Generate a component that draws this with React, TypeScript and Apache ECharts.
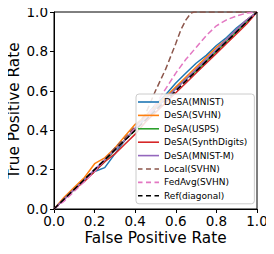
import React, { useEffect, useRef } from "react";
import * as echarts from "echarts";

const fprGrid = [0, 0.05, 0.1, 0.15, 0.2, 0.25, 0.3, 0.35, 0.4, 0.45, 0.5, 0.55, 0.6, 0.65, 0.7, 0.75, 0.8, 0.85, 0.9, 0.95, 1];
const tprMNIST = [0, 0.05, 0.1, 0.15, 0.19, 0.21, 0.28, 0.35, 0.41, 0.47, 0.53, 0.58, 0.64, 0.69, 0.74, 0.78, 0.83, 0.87, 0.92, 0.96, 1];
const tprSVHN = [0, 0.06, 0.11, 0.16, 0.23, 0.26, 0.31, 0.37, 0.43, 0.47, 0.52, 0.57, 0.62, 0.67, 0.72, 0.77, 0.82, 0.86, 0.91, 0.96, 1];
const tprUSPS = [0, 0.05, 0.1, 0.15, 0.19, 0.24, 0.3, 0.35, 0.4, 0.46, 0.51, 0.56, 0.61, 0.66, 0.7, 0.75, 0.8, 0.85, 0.9, 0.95, 1];
const tprSynth = [0, 0.05, 0.1, 0.14, 0.19, 0.24, 0.28, 0.33, 0.38, 0.44, 0.49, 0.54, 0.59, 0.64, 0.69, 0.74, 0.79, 0.84, 0.89, 0.94, 1];
const tprMNISTM = [0, 0.05, 0.1, 0.15, 0.2, 0.25, 0.3, 0.35, 0.41, 0.46, 0.51, 0.56, 0.61, 0.66, 0.71, 0.76, 0.81, 0.86, 0.91, 0.96, 1];

const fprLocal = [0, 0.05, 0.1, 0.15, 0.2, 0.25, 0.3, 0.35, 0.4, 0.45, 0.5, 0.55, 0.6, 0.625, 0.65, 0.675, 0.69, 1];
const tprLocal = [0, 0.05, 0.1, 0.15, 0.2, 0.25, 0.31, 0.36, 0.42, 0.48, 0.6, 0.71, 0.84, 0.91, 0.96, 0.995, 1, 1];

const fprFedAvg = [0, 0.05, 0.1, 0.15, 0.2, 0.25, 0.3, 0.35, 0.4, 0.45, 0.5, 0.55, 0.6, 0.65, 0.7, 0.75, 0.8, 0.85, 0.9, 0.95, 1];
const tprFedAvg = [0, 0.04, 0.09, 0.14, 0.19, 0.25, 0.3, 0.35, 0.41, 0.46, 0.53, 0.61, 0.69, 0.76, 0.82, 0.88, 0.93, 0.96, 0.98, 0.995, 1];

const fprRef = [0, 1];
const tprRef = [0, 1];

const tickLabels = ["0.0", "0.2", "0.4", "0.6", "0.8", "1.0"];

const zip = (xs: number[], ys: number[]) => xs.map((x, i) => [x, ys[i]]);

const SOLID_ICON = "path://M0,0h21v1.6h-21z";
const DASH_ICON = "path://M0,0h4.5v1.6h-4.5z M8,0h5v1.6h-5z M16.5,0h4.5v1.6h-4.5z";

export default function App() {
  const ref = useRef<HTMLDivElement>(null);
  useEffect(() => {
    const chart = echarts.init(ref.current!, null, { renderer: "svg" });
    const font = "DejaVu Sans";
    const mk = (name: string, xs: number[], ys: number[], color: string, type: string = "solid") => ({
      name,
      type: "line",
      data: zip(xs, ys),
      showSymbol: false,
      symbol: "none",
      lineStyle: { color, width: 1.5, type },
      itemStyle: { color },
    });
    const axisCommon = {
      type: "value",
      min: 0,
      max: 1,
      interval: 0.2,
      splitLine: { show: false },
      axisLine: { show: true, onZero: false, lineStyle: { color: "#000", width: 1 } },
      axisTick: { show: true, length: 4, lineStyle: { color: "#000" } },
      axisLabel: {
        color: "#000",
        fontSize: 13.5,
        fontFamily: font,
        formatter: (v: number) => tickLabels[Math.round(v / 0.2)],
      },
      nameLocation: "middle",
      nameMoveOverlap: false,
      nameTextStyle: { color: "#000", fontSize: 15.3, fontFamily: font },
    };
    const names = [
      "DeSA(MNIST)",
      "DeSA(SVHN)",
      "DeSA(USPS)",
      "DeSA(SynthDigits)",
      "DeSA(MNIST-M)",
      "Local(SVHN)",
      "FedAvg(SVHN)",
      "Ref(diagonal)",
    ];
    chart.setOption({
      animation: false,
      backgroundColor: "#fff",
      grid: {
        left: 54,
        right: 17,
        top: 12,
        bottom: 45,
        show: true,
        borderColor: "#000",
        borderWidth: 1,
        containLabel: false,
        outerBoundsMode: "none",
      },
      xAxis: { ...axisCommon, name: "False Positive Rate", nameGap: 21, axisLabel: { ...axisCommon.axisLabel, margin: 5 } },
      yAxis: { ...axisCommon, name: "True Positive Rate", nameGap: 33, axisLabel: { ...axisCommon.axisLabel, margin: 6 } },
      legend: {
        orient: "vertical",
        left: 136,
        top: 94,
        itemWidth: 21,
        itemHeight: 1.6,
        itemGap: 3.4,
        padding: [3, 7, 3, 2],
        backgroundColor: "rgba(255,255,255,0.85)",
        borderColor: "#cccccc",
        borderWidth: 1,
        borderRadius: 3,
        itemStyle: { borderWidth: 0 },
        lineStyle: { width: 0 },
        textStyle: { fontSize: 9, lineHeight: 10, fontFamily: font, color: "#000" },
        data: names.map((n, i) => ({ name: n, icon: i >= 5 ? DASH_ICON : SOLID_ICON })),
      },
      series: [
        mk(names[0], fprGrid, tprMNIST, "#1f77b4"),
        mk(names[1], fprGrid, tprSVHN, "#ff7f0e"),
        mk(names[2], fprGrid, tprUSPS, "#2ca02c"),
        mk(names[3], fprGrid, tprSynth, "#d62728"),
        mk(names[4], fprGrid, tprMNISTM, "#9467bd"),
        mk(names[5], fprLocal, tprLocal, "#8c564b", "dashed"),
        mk(names[6], fprFedAvg, tprFedAvg, "#e377c2", "dashed"),
        mk(names[7], fprRef, tprRef, "#000000", "dashed"),
      ],
    });
    return () => chart.dispose();
  }, []);
  return <div ref={ref} style={{ width: 274, height: 254, margin: -8 }} />;
}
